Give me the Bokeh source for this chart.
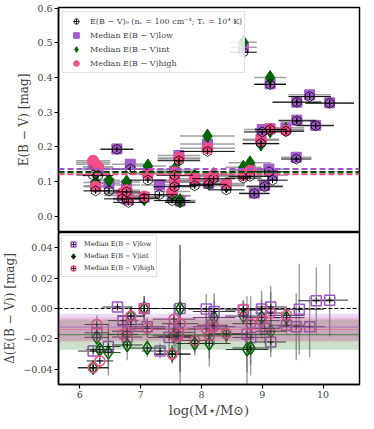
import numpy as np
from bokeh.plotting import figure
from bokeh.models import (Range1d, FixedTicker, Span, BoxAnnotation, Legend,
                          LegendItem)
from bokeh.layouts import column
from bokeh.embed import file_html
from bokeh.resources import INLINE

nan = np.nan

# ---------------- top panel data ----------------
top_mass = [6.22, 6.30, 6.26, 6.48, 6.61, 6.83, 6.77, 6.70, 6.80, 7.06,
            7.12, 7.31, 7.56, 7.56, 7.52, 7.63, 7.65, 7.89, 8.10, 8.12,
            8.20, 8.41, 8.69, 8.69, 8.80, 8.87, 8.98, 9.00, 9.04, 9.11,
            9.17, 9.13, 9.13, 9.39, 9.56, 9.57, 9.57, 9.78, 9.88, 10.11]
top_mass_err = [0.28, 0.25, 0.20, 0.18, 0.27, 0.30, 0.22, 0.30, 0.25, 0.25,
                0.30, 0.30, 0.35, 0.30, 0.30, 0.35, 0.25, 0.30, 0.45, 0.30,
                0.35, 0.30, 0.22, 0.30, 0.35, 0.25, 0.30, 0.30, 0.30, 0.30,
                0.25, 0.26, 0.25, 0.30, 0.25, 0.40, 0.30, 0.35, 0.30, 0.40]
ebv_0 = [0.119, 0.117, 0.073, 0.073, 0.193, 0.136, 0.070, 0.050, 0.040, 0.052,
         0.104, 0.062, 0.085, 0.118, 0.045, 0.160, 0.040, 0.088, 0.187, 0.092,
         0.108, 0.076, 0.473, 0.110, 0.115, 0.065, 0.210, 0.243, 0.085, 0.128,
         0.104, 0.380, 0.250, 0.245, 0.165, 0.329, 0.275, 0.345, 0.261, 0.326]
ebv_0_err = [0.008, 0.008, 0.007, 0.008, 0.006, 0.008, 0.007, 0.008, 0.008, 0.007,
             0.008, 0.007, 0.008, 0.008, 0.007, 0.009, 0.008, 0.008, 0.009, 0.008,
             0.008, 0.008, 0.010, 0.008, 0.009, 0.007, 0.009, 0.009, 0.008, 0.008,
             0.008, 0.010, 0.009, 0.009, 0.008, 0.010, 0.009, 0.010, 0.009, 0.010]
ebv_low = [0.150, 0.135, 0.088, 0.094, 0.194, 0.150, 0.090, 0.060, 0.048, 0.055,
           0.125, 0.090, 0.098, 0.130, 0.058, 0.175, 0.044, 0.102, 0.208, 0.094,
           0.115, 0.090, 0.487, 0.125, 0.135, 0.067, 0.222, 0.250, 0.088, 0.136,
           0.118, 0.382, 0.252, 0.255, 0.170, 0.329, 0.277, 0.350, 0.262, 0.327]
ebv_int = [0.155, 0.138, 0.097, 0.104, nan, nan, 0.099, 0.065, 0.052, 0.050,
           0.145, nan, 0.100, 0.135, 0.060, 0.165, 0.045, 0.117, 0.231, 0.100,
           0.120, 0.088, 0.502, 0.141, 0.154, nan, 0.208, nan, nan, nan,
           nan, 0.400, 0.246, 0.250, nan, nan, nan, nan, nan, nan]
ebv_high = [0.160, 0.143, 0.085, nan, nan, nan, 0.075, 0.067, 0.050, 0.057,
            0.122, nan, 0.104, 0.127, 0.071, 0.168, nan, 0.108, 0.196, 0.104,
            0.118, 0.094, nan, 0.118, 0.131, nan, 0.219, nan, nan, nan,
            nan, nan, 0.252, 0.247, nan, nan, nan, nan, nan, nan]

median_line_names = ["low", "all", "int", "high"]
median_line_values = [0.136, 0.129, 0.126, 0.121]

# ---------------- bottom panel data ----------------
bot_mass = [6.22, 6.28, 6.33, 6.47, 6.62, 6.71, 6.78, 6.84, 7.06, 7.11,
            7.32, 7.47, 7.52, 7.55, 7.58, 7.65, 7.62, 7.89, 8.08, 8.13,
            8.21, 8.18, 8.41, 8.69, 8.75, 8.81, 8.99, 9.04, 9.14, 9.14,
            9.40, 9.56, 9.61, 9.78, 9.89, 10.11]
bot_mass_err = [0.25, 0.20, 0.22, 0.20, 0.25, 0.25, 0.25, 0.22, 0.25, 0.30,
                0.30, 0.35, 0.30, 0.35, 0.30, 0.30, 0.25, 0.30, 0.30, 0.35,
                0.35, 0.25, 0.30, 0.30, 0.35, 0.30, 0.30, 0.25, 0.25, 0.25,
                0.30, 0.30, 0.40, 0.25, 0.30, 0.30]
dlow = [-0.028, -0.016, nan, -0.025, 0.001, -0.008, -0.0188, -0.0105, 0.0, -0.012,
        -0.028, -0.019, nan, -0.0136, nan, 0.0, -0.0157, nan, -0.0004, nan,
        -0.002, -0.011, nan, -0.001, -0.017, -0.019, -0.0003, -0.013, 0.001, -0.022,
        -0.011, -0.012, -0.0005, -0.012, 0.0051, 0.0055]
dint = [-0.039, -0.019, -0.027, -0.029, nan, nan, -0.024, -0.005, 0.0, -0.026,
        nan, nan, -0.030, -0.018, nan, 0.0, nan, -0.023, nan, -0.023,
        -0.006, nan, -0.017, -0.005, -0.027, -0.026, -0.006, nan, -0.015, nan,
        -0.006, nan, nan, nan, nan, nan]
dhigh = [-0.039, -0.0105, -0.0345, nan, nan, -0.017, -0.015, -0.005, 0.0, -0.013,
         nan, nan, -0.030, -0.007, -0.0185, -0.010, -0.018, -0.021, -0.0135, -0.018,
         -0.012, nan, -0.0165, -0.0003, nan, -0.010, -0.008, nan, -0.003, nan,
         -0.0045, nan, nan, nan, nan, nan]
d_err = [0.004, 0.006, 0.005, 0.015, 0.004, 0.008, 0.010, 0.006, 0.008, 0.006,
         0.005, 0.010, 0.006, 0.010, 0.008, 0.042, 0.012, 0.008, 0.010, 0.015,
         0.012, 0.008, 0.006, 0.006, 0.025, 0.018, 0.012, 0.010, 0.014, 0.010,
         0.006, 0.022, 0.030, 0.020, 0.022, 0.024]

band_names = ["low", "int", "high"]
band_mean = [-0.0122, -0.0172, -0.0138]
band_sigma = [0.0088, 0.0100, 0.0080]

x_ticks = [6, 7, 8, 9, 10]
top_y_ticks = [0.0, 0.1, 0.2, 0.3, 0.4, 0.5, 0.6]
bot_y_ticks = [-0.04, -0.02, 0.0, 0.02, 0.04]

# ---------------- styles ----------------
PURPLE = "#a155cb"
GREEN = "#006400"
PINK = "#f54d8a"
SERIF = "DejaVu Serif"
W = 362
LEFT = 52


def style(p):
    p.grid.visible = False
    p.outline_line_color = "black"
    p.outline_line_width = 1.5
    p.outline_line_alpha = 1.0
    p.background_fill_color = "white"
    for ax in p.axis:
        ax.axis_line_width = 1.5
        ax.major_tick_in = 0
        ax.major_tick_out = 4
        ax.major_tick_line_width = 1.2
        ax.minor_tick_in = 0
        ax.minor_tick_out = 0
        ax.major_label_text_font = SERIF
        ax.major_label_text_font_size = "9.5px"
        ax.major_label_standoff = 2
        ax.axis_label_text_font = SERIF
        ax.axis_label_text_font_style = "normal"
        ax.axis_label_text_font_size = "12px"
        ax.axis_label_standoff = 3


xr = Range1d(5.65, 10.6)

# ================= TOP =================
top = figure(width=W, height=232, x_range=xr, y_range=Range1d(-0.047, 0.602),
             output_backend="svg", toolbar_location=None, x_axis_location=None,
             min_border_left=LEFT, min_border_right=3, min_border_top=7,
             min_border_bottom=0)
style(top)
top.yaxis.ticker = FixedTicker(ticks=top_y_ticks)
top.yaxis.major_label_overrides = {t: f"{t:.1f}" for t in top_y_ticks}
top.yaxis.axis_label = "E(B − V) [mag]"

m = np.array(top_mass)
me = np.array(top_mass_err)
e0 = np.array(ebv_0)
e0e = np.array(ebv_0_err)

for vals in (ebv_low, ebv_int, ebv_high):
    v = np.array(vals)
    top.segment(x0=m - me, x1=m + me, y0=v, y1=v, line_color="#7a7a7a",
                line_alpha=0.7, line_width=1.5)

for name, c, val in zip(median_line_names, [PURPLE, "black", GREEN, PINK], median_line_values):
    top.add_layout(Span(location=val, dimension="width", line_color=c,
                        line_width=1.0 if c == "black" else 2.0, line_dash="6 3"))

r_low = top.scatter(m, ebv_low, marker="square", size=10, fill_color=PURPLE,
                    line_color=PURPLE, fill_alpha=0.95)
r_int = top.scatter(m, ebv_int, marker="diamond", size=14, fill_color=GREEN,
                    line_color=GREEN)
r_high = top.scatter(m, ebv_high, marker="circle", size=11, fill_color=PINK,
                     line_color=PINK)

top.segment(x0=m - me, x1=m + me, y0=e0, y1=e0, line_color="black", line_width=1)
top.segment(x0=m, x1=m, y0=e0 - e0e, y1=e0 + e0e, line_color="black", line_width=1)
r_e0 = top.scatter(m, e0, marker="hex", angle=np.pi / 2, size=10, fill_color=None,
                   line_color="black", line_width=0.8)
r_e0x = top.scatter(m, e0, marker="cross", size=6, line_color="black", line_width=0.8)

leg_top = Legend(items=[
    LegendItem(label="E(B − V)₀ (nₑ = 100 cm⁻³; Tₑ = 10⁴ K)", renderers=[r_e0, r_e0x]),
    LegendItem(label="Median E(B − V)low", renderers=[r_low]),
    LegendItem(label="Median E(B − V)int", renderers=[r_int]),
    LegendItem(label="Median E(B − V)high", renderers=[r_high]),
], location="top_left")
leg_top.glyph_width = 22
leg_top.glyph_height = 14
leg_top.label_height = 12
leg_top.spacing = 0
leg_top.padding = 2
leg_top.margin = 4
leg_top.label_standoff = 3
leg_top.label_text_font = SERIF
leg_top.label_text_font_size = "8px"
leg_top.border_line_color = "#c8c8c8"
leg_top.border_line_width = 1
leg_top.background_fill_alpha = 0.85
top.add_layout(leg_top)

# ================= BOTTOM =================
bot = figure(width=W, height=188, x_range=xr, y_range=Range1d(-0.05, 0.05),
             output_backend="svg", toolbar_location=None,
             min_border_left=LEFT, min_border_right=3, min_border_top=0,
             min_border_bottom=2)
style(bot)
bot.xaxis.ticker = FixedTicker(ticks=x_ticks)
bot.yaxis.ticker = FixedTicker(ticks=bot_y_ticks)
bot.yaxis.major_label_overrides = {t: (f"{t:.2f}".replace("-", "−")) for t in bot_y_ticks}
bot.yaxis.axis_label = "Δ(E(B − V)) [mag]"
bot.xaxis.axis_label = "log(M⋆/M⊙)"
bot.xaxis.axis_label_text_font_size = "13px"
bot.xaxis.axis_label_standoff = 2

for mu, sg, c in zip(band_mean, band_sigma, [PURPLE, GREEN, PINK]):
    bot.add_layout(BoxAnnotation(bottom=mu - sg, top=mu + sg, fill_color=c,
                                 fill_alpha=0.2, line_alpha=0))
bot.add_layout(Span(location=0.0, dimension="width", line_color="black",
                    line_width=1.2, line_dash="4 2"))
for mu, c in zip(band_mean, [PURPLE, GREEN, PINK]):
    bot.add_layout(Span(location=mu, dimension="width", line_color=c,
                        line_width=1.2, line_dash="1 1"))

bm = np.array(bot_mass)
bme = np.array(bot_mass_err)
de = np.array(d_err)
for vals in (dlow, dint, dhigh):
    v = np.array(vals)
    bot.segment(x0=bm, x1=bm, y0=v - de, y1=v + de, line_color="#555555",
                line_alpha=0.55, line_width=1.5)
for vals in (dlow, dint, dhigh):
    v = np.array(vals)
    bot.segment(x0=bm - bme, x1=bm + bme, y0=v, y1=v, line_color="black",
                line_alpha=0.8, line_width=1)

b_low = bot.scatter(bm, dlow, marker="square", size=10, fill_color=None,
                    line_color=PURPLE, line_width=1.5)
b_int = bot.scatter(bm, dint, marker="diamond", size=13, fill_color=None,
                    line_color=GREEN, line_width=1.5)
b_high = bot.scatter(bm, dhigh, marker="circle", size=10, fill_color=None,
                     line_color=PINK, line_width=1.5)
bx_low = bot.scatter(bm, dlow, marker="cross", size=6, line_color="black", line_width=0.8)
bx_int = bot.scatter(bm, dint, marker="cross", size=6, line_color="black", line_width=0.8)
bx_high = bot.scatter(bm, dhigh, marker="cross", size=6, line_color="black", line_width=0.8)

leg_bot = Legend(items=[
    LegendItem(label="Median E(B − V)low", renderers=[b_low, bx_low]),
    LegendItem(label="Median E(B − V)int", renderers=[b_int, bx_int]),
    LegendItem(label="Median E(B − V)high", renderers=[b_high, bx_high]),
], location="top_left")
leg_bot.glyph_width = 18
leg_bot.glyph_height = 12
leg_bot.label_height = 10
leg_bot.spacing = 0
leg_bot.padding = 2
leg_bot.margin = 3
leg_bot.label_standoff = 2
leg_bot.label_text_font = SERIF
leg_bot.label_text_font_size = "6.5px"
leg_bot.label_text_color = "#222222"
leg_bot.border_line_color = "#c8c8c8"
leg_bot.border_line_width = 1
leg_bot.background_fill_alpha = 0.85
bot.add_layout(leg_bot)

layout = column(top, bot, spacing=0)
open("out.html", "w").write(file_html(layout, INLINE))
